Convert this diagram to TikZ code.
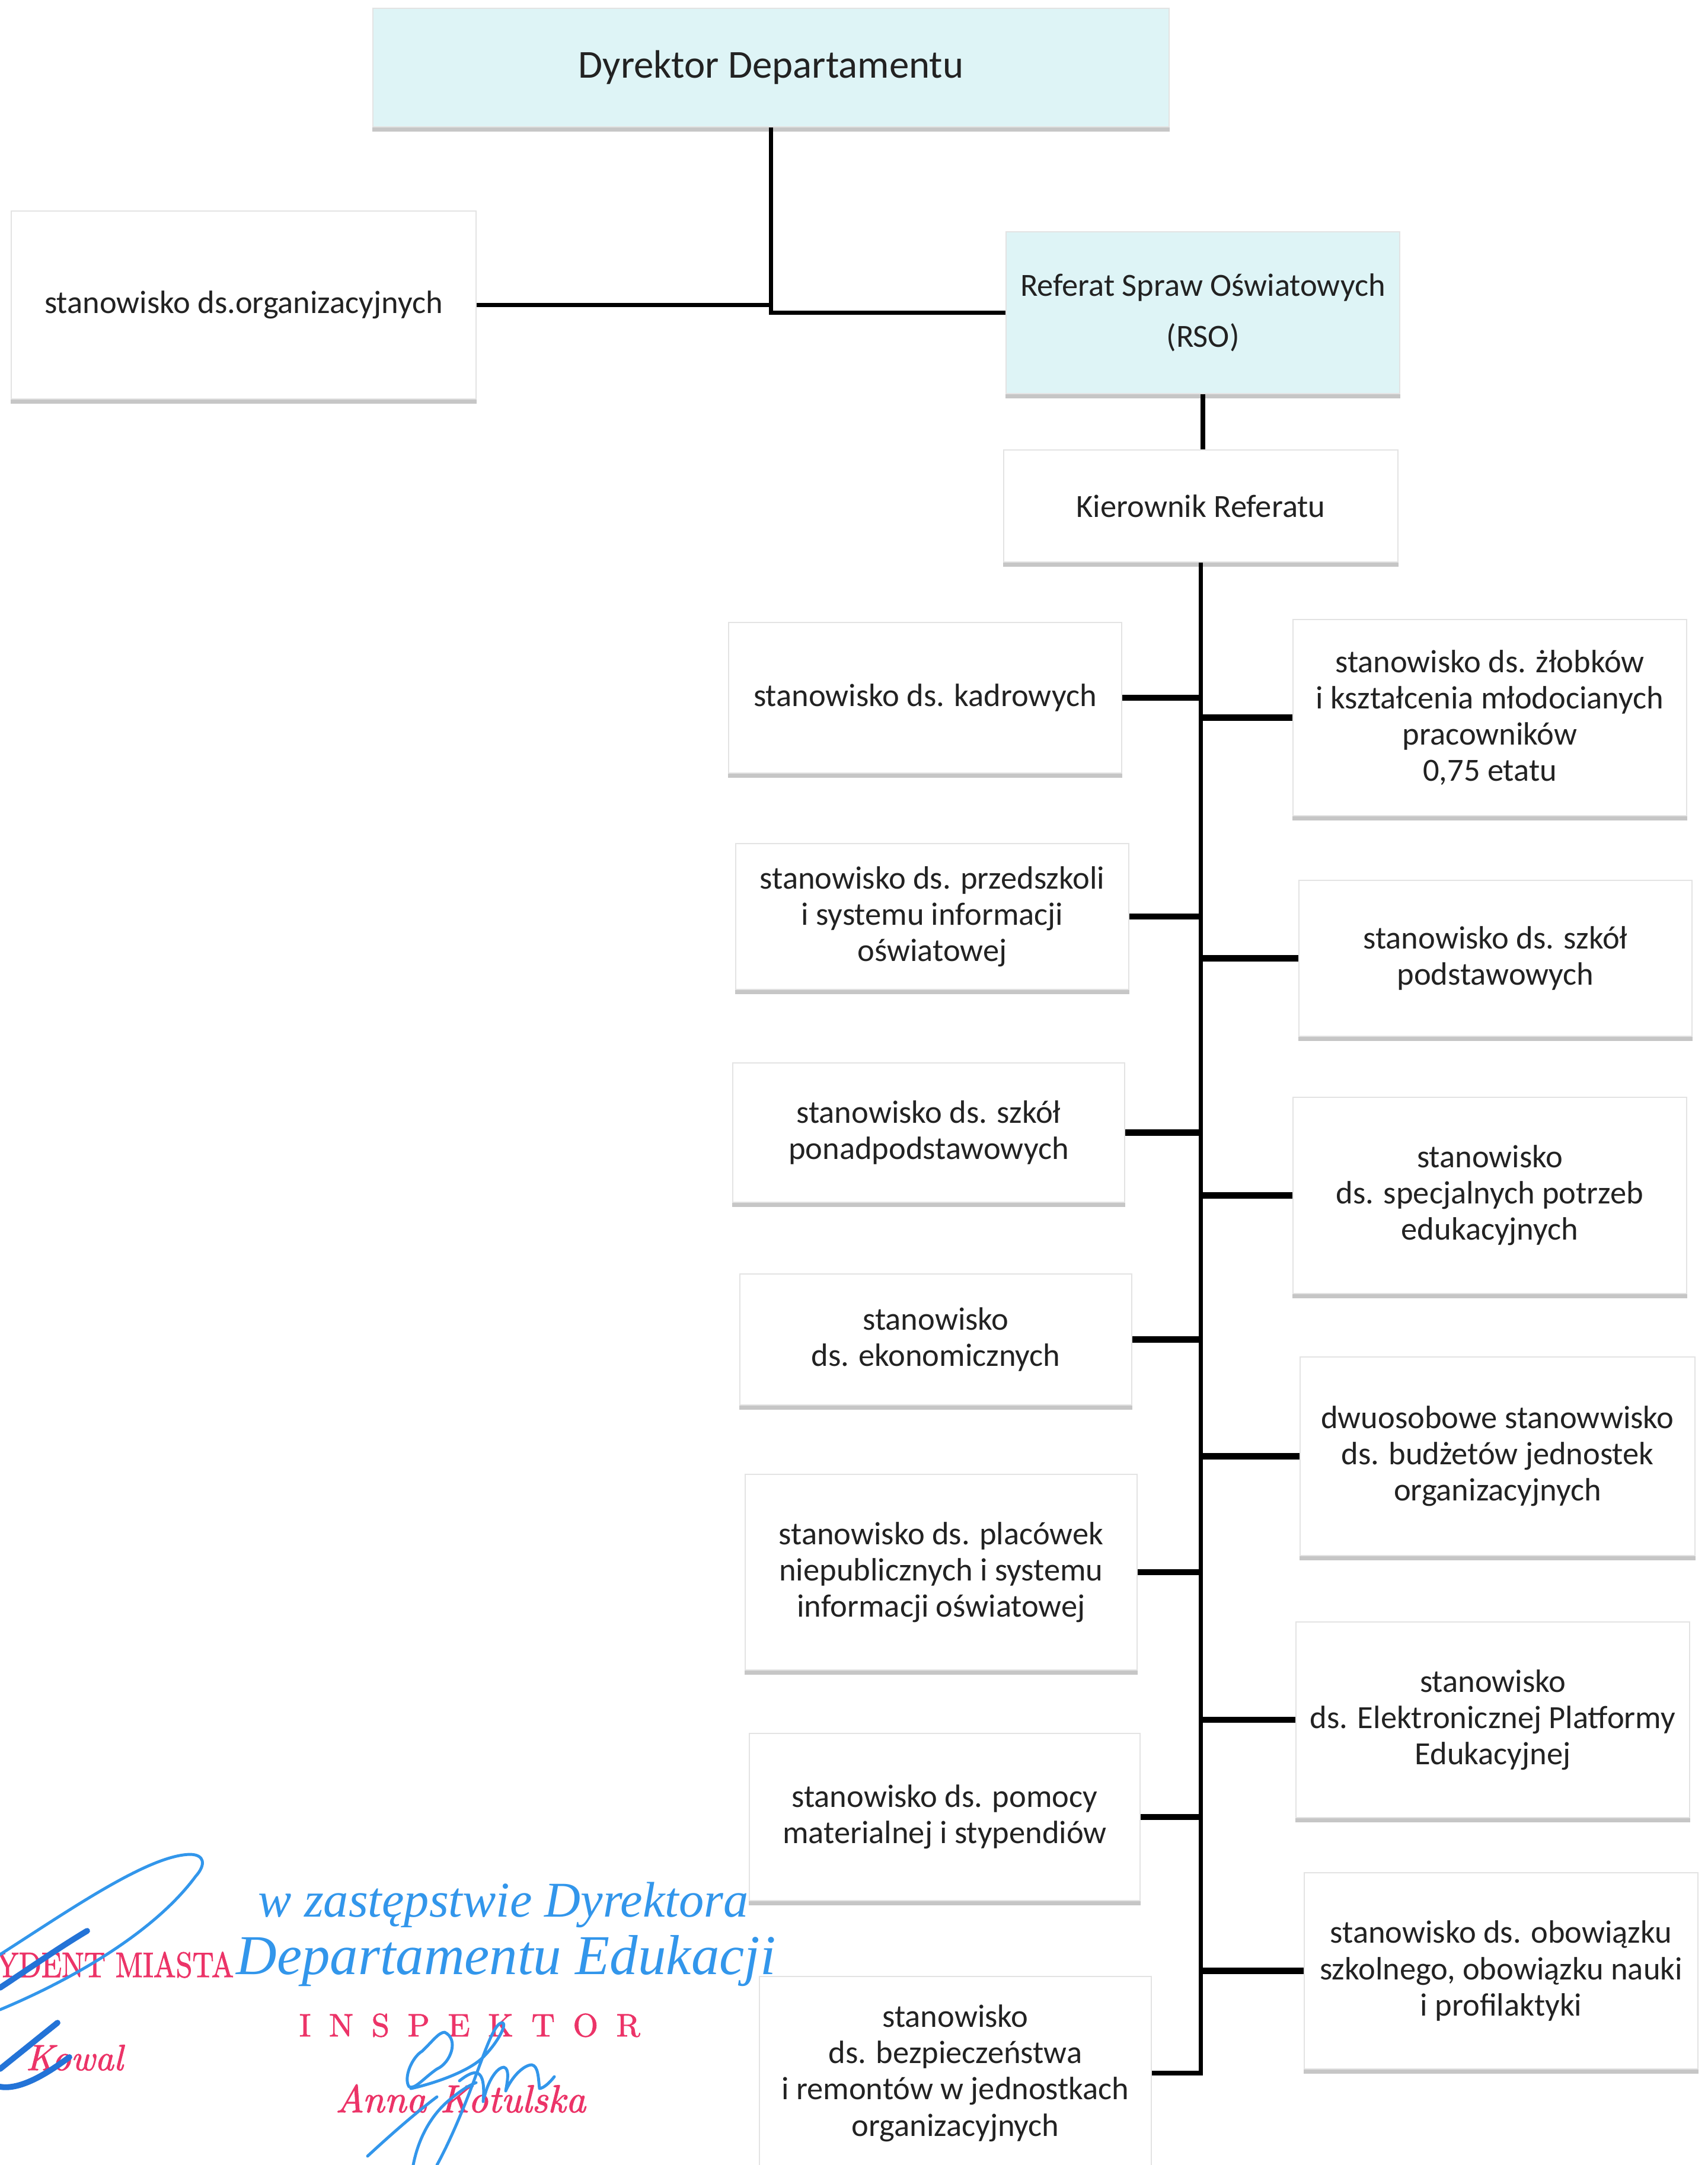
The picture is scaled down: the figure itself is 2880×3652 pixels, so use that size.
\documentclass[tikz,border=0pt]{standalone}
\usepackage{graphicx}
\usepackage{fontspec}
\newfontfamily\calfont{Carlito}
\newfontfamily\handfont{Liberation Serif}
\newfontfamily\stampfont[FakeBold=1.6, ItalicFont=lmroman10-italic.otf, ItalicFeatures={FakeBold=1.6}]{lmroman10-regular.otf}
\definecolor{boxblue}{RGB}{222,244,246}
\definecolor{txt}{RGB}{34,34,34}
\definecolor{stampred}{RGB}{236,52,104}
\definecolor{inkblue}{RGB}{50,150,235}
\definecolor{inkdark}{RGB}{35,115,215}
\tikzset{
  box/.style={draw=gray!22, line width=0.6pt, fill=white, text=txt, align=center,
    font=\calfont\fontsize{15.5}{17.4}\selectfont, inner sep=0pt},
  bluebox/.style={box, fill=boxblue},
  link/.style={line width=2.2pt, black},
  stub/.style={line width=3pt, black},
  shade/.style={gray!45, line width=2pt},
  stamp/.style={text=stampred, inner sep=0pt},
  hand/.style={text=inkblue, inner sep=0pt},
  ink/.style={inkblue, line width=1.4pt, line cap=round, line join=round},
  inkthick/.style={inkdark, line width=2.8pt, line cap=round},
}
\newcommand\obox[7][box]{%
  \pgfmathsetmacro\bw{(#5-#3)*0.01}%
  \pgfmathsetmacro\bh{(#6-#4)*0.01}%
  \node[#1, minimum width=\bw cm, minimum height=\bh cm] (#2) at ({(#3+#5)/2},{(#4+#6)/2}) {#7};
  \draw[shade] ([yshift=-1pt]#2.south west) -- ([yshift=-1pt]#2.south east);
}
\newcommand\lsp{\hspace{0.307cm}}
\begin{document}
\begin{tikzpicture}[x=0.01cm, y=-0.01cm]
\useasboundingbox (0,0) rectangle (2880,3652);
\clip (0,0) rectangle (2880,3652);
\fill[white] (0,0) rectangle (2880,3652);

% top level
\obox[bluebox, font=\calfont\fontsize{19}{22}\selectfont]{dyr}{629}{14}{1972}{214}{Dyrektor Departamentu}
\obox{org}{19}{356}{803}{673}{stanowisko ds.organizacyjnych}
\obox[bluebox, font=\calfont\fontsize{15.5}{24.5}\selectfont]{rso}{1697}{391}{2361}{664}{Referat Spraw Oświatowych\\(RSO)}
\obox{kier}{1693}{759}{2358}{948}{Kierownik Referatu}

% left column
\obox{kadr}{1229}{1050}{1892}{1304}{stanowisko ds. kadrowych}
\obox{przed}{1241}{1423}{1904}{1669}{stanowisko ds. przedszkoli\\i systemu informacji\\oświatowej}
\obox{ponad}{1236}{1793}{1897}{2028}{stanowisko ds. szkół\\ponadpodstawowych}
\obox{ekon}{1248}{2149}{1909}{2370}{stanowisko\\ds. ekonomicznych}
\obox{plac}{1257}{2487}{1918}{2817}{stanowisko ds. placówek\\niepublicznych i systemu\\informacji oświatowej}
\obox{pomoc}{1264}{2924}{1923}{3206}{stanowisko ds. pomocy\\materialnej i stypendiów}
\obox{bezp}{1281}{3334}{1942}{3660}{stanowisko\\ds. bezpieczeństwa\\i remontów w jednostkach\\organizacyjnych}

% right column
\obox{zlob}{2181}{1045}{2845}{1376}{stanowisko ds. żłobków\\i kształcenia młodocianych\\pracowników\\0,75 etatu}
\obox{podst}{2191}{1485}{2854}{1748}{stanowisko ds. szkół\\podstawowych}
\obox{spec}{2181}{1851}{2845}{2182}{stanowisko\\ds. specjalnych potrzeb\\edukacyjnych}
\obox{dwu}{2193}{2289}{2859}{2624}{dwuosobowe stanowwisko\\ds. budżetów jednostek\\organizacyjnych}
\obox{epe}{2186}{2736}{2850}{3066}{stanowisko\\ds. Elektronicznej Platformy\\Edukacyjnej}
\obox{obow}{2200}{3159}{2864}{3490}{stanowisko ds. obowiązku\\szkolnego, obowiązku nauki\\i profilaktyki}

% connectors
\draw[link] (dyr.south) -- (dyr.south |- rso.west) -- (rso.west);
\draw[link] (org.east) -- (dyr.south |- org.east);
\draw[link] (rso.south) -- (rso.south |- kier.north);
\draw[link] (kier.south) -- (kier.south |- bezp.east) -- (bezp.east);
\foreach \n in {kadr,przed,ponad,ekon,plac,pomoc}
  \draw[stub] (\n.east) -- (\n.east -| kier.south);
\foreach \n in {zlob,podst,spec,dwu,epe,obow}
  \draw[stub] (\n.west) -- (\n.west -| kier.south);

% stamps
\node[stamp, anchor=base east, font=\stampfont\fontsize{17}{20}\selectfont] (st1) at (395,3335) {\scalebox{0.84}[1]{PREZYDENT MIASTA}};
\node[stamp, anchor=base west, font=\stampfont\fontsize{15.5}{18}\selectfont] (st2) at (504,3435) {I\lsp N\lsp S\lsp P\lsp E\lsp K\lsp T\lsp O\lsp R};
\node[stamp, anchor=base west, font=\stampfont\itshape\fontsize{17.5}{20}\selectfont] (st3) at (43,3492) {Kowal};
\node[stamp, anchor=base west, font=\stampfont\itshape\fontsize{18.7}{22}\selectfont] (st4) at (565,3563) {Anna Kotulska};

% handwriting
\node[hand, anchor=base west, font=\handfont\itshape\fontsize{24}{26}\selectfont] (hw1) at (435,3233) {w zastępstwie Dyrektora};
\node[hand, anchor=base west, font=\handfont\itshape\fontsize{27}{30}\selectfont] (hw2) at (398,3330) {Departamentu Edukacji};

% signature, left
\draw[ink] (0,3297) .. controls (120,3220) and (250,3130) .. (320,3128)
  .. controls (345,3128) and (348,3145) .. (330,3165)
  .. controls (260,3260) and (120,3340) .. (0,3390);
\draw[inkthick] (0,3353) .. controls (50,3320) and (100,3285) .. (147,3257);
\draw[inkthick] (0,3490) -- (97,3412);
\draw[inkthick] (0,3520) .. controls (30,3525) and (70,3505) .. (117,3470);

% signature, right
\draw[ink] (750,3428) .. controls (775,3440) and (760,3480) .. (737,3490)
  .. controls (715,3505) and (700,3525) .. (690,3520)
  .. controls (680,3505) and (695,3470) .. (712,3460)
  .. controls (728,3445) and (740,3428) .. (750,3428);
\draw[ink] (693,3523) .. controls (730,3515) and (790,3495) .. (815,3470)
  .. controls (840,3445) and (855,3415) .. (848,3412)
  .. controls (835,3410) and (820,3455) .. (803,3500)
  .. controls (785,3550) and (760,3610) .. (737,3652);
\draw[ink] (775,3510) .. controls (800,3490) and (820,3485) .. (815,3545);
\draw[ink] (817,3537) .. controls (825,3505) and (840,3487) .. (850,3487)
  .. controls (860,3490) and (856,3510) .. (853,3527)
  .. controls (865,3500) and (885,3483) .. (897,3483)
  .. controls (908,3485) and (908,3505) .. (910,3523)
  .. controls (918,3522) and (928,3512) .. (935,3503);
\draw[ink] (620,3637) .. controls (660,3600) and (700,3565) .. (737,3537);
\draw[ink] (697,3652) .. controls (705,3610) and (725,3570) .. (757,3543)
  .. controls (775,3528) and (790,3518) .. (803,3513);
\end{tikzpicture}
\end{document}
